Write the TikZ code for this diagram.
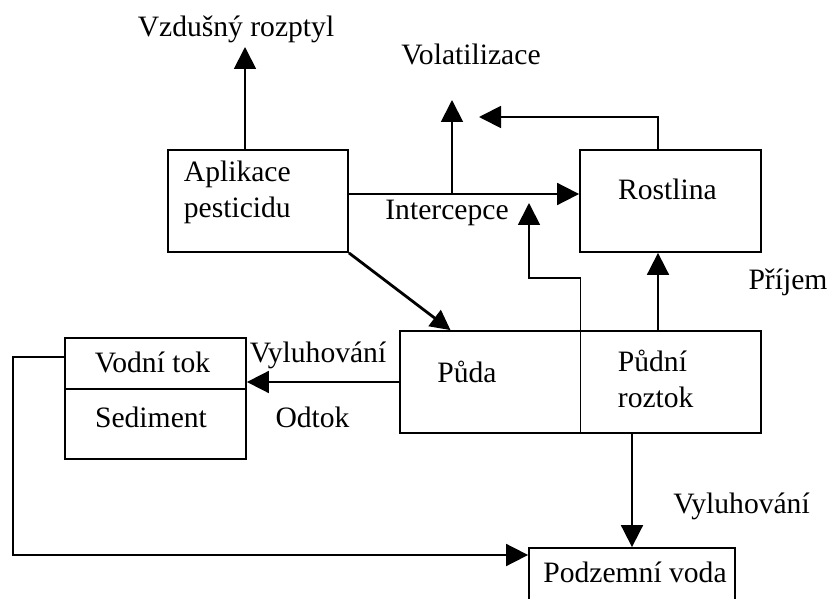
\documentclass[tikz,border=0pt]{standalone}
\usepackage{fontspec}
\setmainfont{Liberation Serif}
\usetikzlibrary{arrows.meta}
\begin{document}
\begin{tikzpicture}[x=.5pt, y=-.5pt, line width=.9pt, >={Triangle[length=11pt,width=11pt]},
	box/.style={draw, rectangle, inner sep=0pt},
	lbl/.style={inner sep=0pt, font=\fontsize{14.8}{18}\selectfont}]
	\useasboundingbox (0,0) rectangle (831,599);
	% boxes
	\node[box, minimum width=90pt, minimum height=51pt] (aplikace) at (258,201) {};
	\node[box, minimum width=90.5pt, minimum height=51pt] (rostlina) at (670.5,201) {};
	\node[box, minimum width=180.5pt, minimum height=51pt] (puda) at (580.5,382) {};
	\node[box, minimum width=90.5pt, minimum height=60.5pt] (vodni) at (155.5,398.5) {};
	\node[box, minimum width=103pt, minimum height=32pt] (podzemni) at (632,580) {};
	% texts
	\node[lbl, anchor=base] (vzdusnyText) at (236,37) {Vzdušný rozptyl};
	\node[lbl, anchor=base] (volatText) at (471,65) {Volatilizace};
	\node[lbl, anchor=base west, align=left] (aplikaceText) at (183,218) {Aplikace\\pesticidu};
	\node[lbl, anchor=base] (interText) at (447,220) {Intercepce};
	\node[lbl, anchor=base] (rostlinaText) at (667.5,199) {Rostlina};
	\node[lbl, anchor=base] (prijemText) at (788,290) {Příjem};
	\node[lbl, anchor=base] (vyluhAText) at (318,362) {Vyluhování};
	\node[lbl, anchor=base] (odtokText) at (312.5,427) {Odtok};
	\node[lbl, anchor=base] (vodniText) at (152.5,372) {Vodní tok};
	\node[lbl, anchor=base] (sedimentText) at (151,427) {Sediment};
	\node[lbl, anchor=base] (pudaText) at (467,382) {Půda};
	\node[lbl, anchor=base west, align=left, font=\fontsize{14.8}{17.5}\selectfont] (roztokText) at (617,407) {Půdní\\roztok};
	\node[lbl, anchor=base] (vyluhBText) at (741.5,513) {Vyluhování};
	\node[lbl, anchor=base] (podzemniText) at (635,582) {Podzemní voda};
	% free ends and corners
	\coordinate (vzdusny) at (245,47);
	\coordinate (intercept) at (452,194);
	\coordinate (volat) at (452,100);
	\coordinate (upx) at (658,117);
	\coordinate (volatB) at (479,117);
	\coordinate (splash) at (529,203);
	\coordinate (bend) at (13,555);
	% connectors
	\draw[->] (aplikace.north -| vzdusny) -- (vzdusny);
	\draw[->] (intercept -| aplikace.east) -- (intercept -| rostlina.west);
	\draw[->] (intercept) -- (volat);
	\draw[->] (rostlina.north -| upx) -- (upx) -- (volatB);
	\draw[->] (puda.north -| upx) -- (rostlina.south -| upx);
	\draw[->] (puda.north) -- ++(0,-52) -| (splash);
	\draw (puda.north) -- (puda.south);
	\draw[->, line width=1.4pt, >={Triangle[length=10pt,width=10pt]}] (aplikace.south east) -- ([xshift=-65pt]puda.north);
	\draw[->] (puda.west) -- (vodni.east |- puda.west);
	\draw ([yshift=4.75pt]vodni.west) -- ([yshift=4.75pt]vodni.east);
	\draw[->] ([yshift=20.75pt]vodni.west) -| (bend) -- (bend -| podzemni.west);
	\draw[->] (puda.south -| podzemni.north) -- (podzemni.north);
\end{tikzpicture}
\end{document}
